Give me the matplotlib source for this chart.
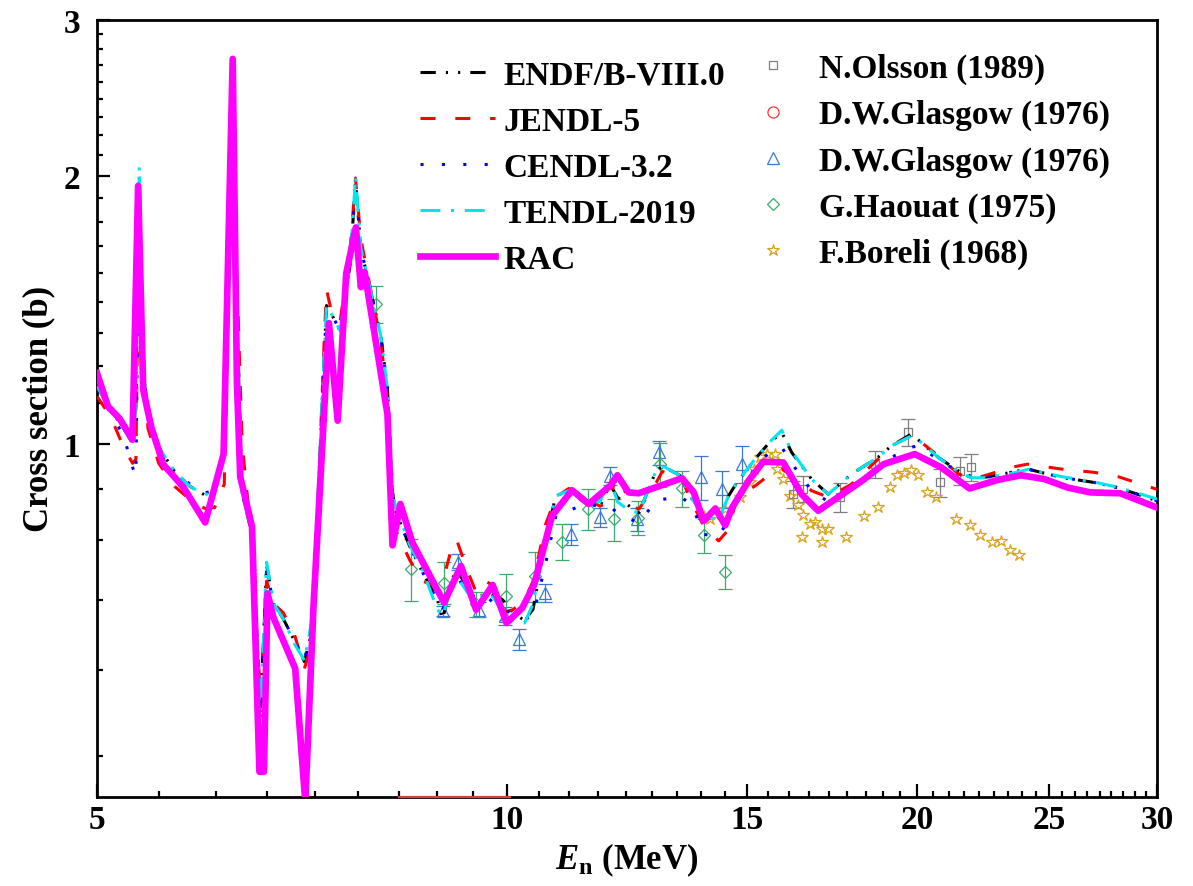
import matplotlib
matplotlib.use("Agg")
import matplotlib.pyplot as plt
from matplotlib.lines import Line2D
from matplotlib.ticker import FixedLocator, NullFormatter

plt.rcParams["font.family"] = ["Liberation Serif", "DejaVu Serif"]
plt.rcParams["font.weight"] = "bold"
plt.rcParams["mathtext.fontset"] = "custom"
plt.rcParams["mathtext.rm"] = "Liberation Serif:bold"
plt.rcParams["mathtext.it"] = "Liberation Serif:italic:bold"
plt.rcParams["mathtext.bf"] = "Liberation Serif:bold"

# ---------------------------------------------------------------
# evaluated libraries (shared energy grid, MeV) / cross sections (b)
# ---------------------------------------------------------------
e_eval = [5.00, 5.12, 5.23, 5.31, 5.34, 5.37, 5.40, 5.45, 5.55, 5.70,
          5.85, 6.00, 6.10, 6.20, 6.28, 6.33, 6.39, 6.50, 6.59, 6.66,
          6.74, 6.85, 6.98, 7.10, 7.20, 7.34, 7.37, 7.43, 7.54, 7.67,
          7.74, 7.81, 8.08, 8.17, 8.24, 8.28, 8.48, 8.67, 8.89, 8.97,
          9.10, 9.18, 9.35, 9.49, 9.65, 9.78, 9.92, 10.10, 10.30, 10.45,
          10.67, 10.86, 11.10, 11.40, 11.70, 11.90, 12.05, 12.30, 12.50, 12.85,
          13.00, 13.40, 13.67, 13.94, 14.30, 14.54, 14.75, 15.21, 15.55, 15.91,
          16.18, 16.73, 17.21, 17.90, 18.72, 19.15, 19.81, 20.03, 20.72, 21.43,
          21.92, 22.42, 23.44, 24.11, 25.51, 26.98, 28.07, 30.00]

xs_endf = [1.16, 1.09, 1.04, 1.00, 1.10, 2.00, 1.25, 1.07, 0.99, 0.93,
           0.895, 0.875, 0.885, 0.99, 2.45, 1.45, 0.878, 0.79, 0.50, 0.73,
           0.66, 0.635, 0.60, 0.568, 0.62, 1.25, 1.43, 1.40, 1.34, 1.59,
           1.97, 1.66, 1.32, 1.15, 0.88, 0.84, 0.767, 0.716, 0.667, 0.634,
           0.70, 0.72, 0.69, 0.667, 0.68, 0.674, 0.667, 0.645, 0.632, 0.651,
           0.78, 0.873, 0.885, 0.858, 0.85, 0.90, 0.87, 0.85, 0.836, 0.928,
           0.944, 0.92, 0.866, 0.829, 0.82, 0.873, 0.904, 0.961, 0.999, 1.029,
           0.977, 0.912, 0.877, 0.924, 0.965, 0.994, 1.025, 1.01, 0.965, 0.932,
           0.918, 0.916, 0.928, 0.936, 0.916, 0.904, 0.892, 0.862]

xs_jendl = [1.13, 1.07, 0.99, 0.95, 0.96, 1.95, 1.30, 1.04, 0.95, 0.895,
            0.865, 0.845, 0.847, 0.90, 2.40, 1.60, 1.00, 0.77, 0.52, 0.70,
            0.66, 0.645, 0.61, 0.558, 0.60, 1.30, 1.49, 1.41, 1.37, 1.65,
            1.99, 1.70, 1.30, 1.12, 0.86, 0.80, 0.74, 0.70, 0.69, 0.70,
            0.76, 0.78, 0.72, 0.68, 0.70, 0.69, 0.645, 0.65, 0.667, 0.70,
            0.81, 0.87, 0.89, 0.87, 0.85, 0.86, 0.94, 0.851, 0.844, 0.90,
            0.93, 0.92, 0.858, 0.808, 0.777, 0.80, 0.87, 0.896, 0.92, 0.936,
            0.92, 0.885, 0.87, 0.90, 0.96, 0.994, 1.02, 1.01, 0.969, 0.925,
            0.912, 0.92, 0.94, 0.948, 0.936, 0.928, 0.918, 0.888]

xs_cendl = [1.15, 1.08, 1.02, 0.94, 0.92, 1.98, 1.25, 1.07, 0.99, 0.93,
            0.90, 0.88, 0.885, 0.98, 2.40, 1.45, 0.878, 0.79, 0.49, 0.72,
            0.66, 0.635, 0.60, 0.57, 0.63, 1.25, 1.42, 1.40, 1.34, 1.59,
            1.96, 1.66, 1.32, 1.15, 0.88, 0.84, 0.767, 0.716, 0.665, 0.65,
            0.69, 0.71, 0.68, 0.665, 0.675, 0.66, 0.655, 0.64, 0.634, 0.64,
            0.731, 0.829, 0.84, 0.855, 0.85, 0.85, 0.835, 0.822, 0.815, 0.86,
            0.865, 0.872, 0.852, 0.79, 0.787, 0.82, 0.87, 0.94, 0.975, 0.99,
            0.95, 0.885, 0.86, 0.895, 0.935, 0.965, 0.99, 0.995, 0.96, 0.93,
            0.915, 0.915, 0.928, 0.936, 0.916, 0.904, 0.892, 0.862]

xs_tendl = [1.16, 1.09, 1.04, 1.00, 1.10, 2.05, 1.25, 1.08, 0.99, 0.93,
            0.895, 0.875, 0.885, 0.99, 2.45, 1.45, 0.878, 0.79, 0.50, 0.735,
            0.66, 0.635, 0.595, 0.57, 0.64, 1.25, 1.43, 1.40, 1.34, 1.59,
            2.00, 1.66, 1.32, 1.15, 0.88, 0.85, 0.77, 0.72, 0.65, 0.64,
            0.69, 0.71, 0.68, 0.665, 0.68, 0.67, 0.645, 0.632, 0.628, 0.66,
            0.78, 0.873, 0.885, 0.858, 0.86, 0.915, 0.86, 0.84, 0.836, 0.928,
            0.944, 0.92, 0.866, 0.829, 0.82, 0.873, 0.904, 0.961, 1.00, 1.035,
            0.98, 0.912, 0.877, 0.924, 0.965, 0.994, 1.02, 1.01, 0.965, 0.93,
            0.915, 0.915, 0.925, 0.935, 0.918, 0.905, 0.893, 0.866]

# RAC curve
e_rac = [5.00, 5.094, 5.196, 5.309, 5.36, 5.406, 5.48, 5.593, 5.786, 6.003,
         6.193, 6.289, 6.334, 6.37, 6.498, 6.58, 6.63, 6.67, 6.74, 6.99,
         7.11, 7.21, 7.40, 7.51, 7.62, 7.745, 7.81, 7.86, 8.17, 8.24,
         8.35, 8.52, 8.99, 9.25, 9.49, 9.76, 9.99, 10.26, 10.47, 10.79,
         11.16, 11.48, 11.90, 12.05, 12.28, 12.49, 13.44, 13.71, 13.94, 14.22,
         14.46, 14.63, 15.04, 15.42, 15.95, 16.45, 16.92, 17.71, 18.26, 18.90,
         19.92, 20.83, 21.85, 22.92, 23.84, 24.80, 25.80, 26.80, 28.20, 30.00]
xs_rac = [1.20, 1.101, 1.066, 1.01, 1.95, 1.15, 1.044, 0.947, 0.893, 0.815,
          0.973, 2.71, 1.175, 0.917, 0.806, 0.427, 0.427, 0.678, 0.636, 0.558,
          0.395, 0.657, 1.366, 1.061, 1.555, 1.751, 1.50, 1.56, 1.078, 0.768,
          0.855, 0.774, 0.662, 0.728, 0.650, 0.693, 0.628, 0.653, 0.694, 0.829,
          0.886, 0.855, 0.896, 0.921, 0.881, 0.879, 0.914, 0.881, 0.818, 0.845,
          0.809, 0.847, 0.908, 0.954, 0.952, 0.877, 0.840, 0.881, 0.910, 0.948,
          0.973, 0.940, 0.890, 0.910, 0.921, 0.912, 0.892, 0.881, 0.879, 0.847]

# ---------------------------------------------------------------
# experimental data
# ---------------------------------------------------------------
e_olsson = [16.22, 16.50, 17.55, 18.62, 19.69, 20.78, 21.49, 21.89]
xs_olsson = [0.877, 0.889, 0.870, 0.948, 1.030, 0.904, 0.932, 0.940]
err_olsson = [0.030, 0.030, 0.033, 0.034, 0.036, 0.033, 0.034, 0.032]

# circles sit on the lower frame edge (only a red trace is visible there)
e_glasgow_c = [8.33, 8.80, 9.30, 9.70, 10.05]
xs_glasgow_c = [0.4, 0.4, 0.4, 0.4, 0.4]

e_glasgow_t = [8.97, 9.20, 9.54, 9.97, 10.20, 10.67, 11.15, 11.71, 11.91, 12.46,
               12.92, 13.89, 14.38, 14.87]
xs_glasgow_t = [0.648, 0.735, 0.650, 0.639, 0.602, 0.679, 0.790, 0.826, 0.920, 0.822,
                0.977, 0.916, 0.889, 0.948]
err_glasgow_t = [0.008, 0.015, 0.013, 0.015, 0.016, 0.016, 0.021, 0.021, 0.021, 0.025,
                 0.030, 0.052, 0.042, 0.046]

e_haouat = [8.01, 8.50, 8.99, 9.49, 9.98, 10.48, 10.97, 11.47, 11.98, 12.48,
            12.96, 13.44, 13.96, 14.46]
xs_haouat = [1.434, 0.722, 0.697, 0.659, 0.673, 0.709, 0.775, 0.844, 0.822, 0.825,
             0.948, 0.890, 0.788, 0.717]
err_haouat = [0.069, 0.058, 0.038, 0.022, 0.040, 0.046, 0.036, 0.044, 0.045, 0.036,
              0.054, 0.042, 0.035, 0.032]

e_boreli = [13.94, 14.10, 14.46, 14.83, 15.08, 15.17, 15.34, 15.51, 15.73, 15.77,
            15.95, 16.13, 16.34, 16.45, 16.50, 16.69, 16.83, 17.02, 17.04, 17.21,
            17.72, 18.27, 18.73, 19.10, 19.33, 19.56, 19.79, 20.03, 20.35, 20.66,
            21.37, 21.86, 22.23, 22.69, 23.03, 23.38, 23.74]
xs_boreli = [0.828, 0.822, 0.844, 0.870, 0.906, 0.936, 0.965, 0.973, 0.973, 0.936,
             0.912, 0.873, 0.852, 0.784, 0.830, 0.811, 0.815, 0.801, 0.775, 0.802,
             0.784, 0.828, 0.849, 0.894, 0.921, 0.926, 0.934, 0.921, 0.881, 0.871,
             0.823, 0.809, 0.788, 0.774, 0.777, 0.758, 0.749]

x_major = [5, 10, 15, 20, 25, 30]
y_major = [1, 2, 3]

C_GRAY = "#7f7f7f"
C_RED = "#ff3333"
C_BLUE = "#3a78d8"
C_GREEN = "#3caa6e"
C_GOLD = "#d9a31a"

# ---------------------------------------------------------------
fig = plt.figure(figsize=(11.93, 8.87), dpi=100)
ax = fig.add_axes([97 / 1193, 1 - 798 / 887, 1060 / 1193, (798 - 20.7) / 887])

l_endf, = ax.plot(e_eval, xs_endf, color="black", lw=2.2,
                  ls=(0, (5, 3.3, 0.7, 3.3, 0.7, 3.3)), zorder=4)
l_jendl, = ax.plot(e_eval, xs_jendl, color="#ff0000", lw=2.2,
                   ls=(0, (4.9, 6.5)), zorder=4)
l_cendl, = ax.plot(e_eval, xs_cendl, color="#0000ff", lw=2.2,
                   ls=(0, (1, 6)), zorder=4)
l_tendl, = ax.plot(e_eval, xs_tendl, color="#00e5ee", lw=2.2,
                   ls=(0, (6.5, 3.5, 1, 3.5)), zorder=4)

eb = dict(ls="none", mfc="none", mew=0.9, elinewidth=0.9, capsize=4.7, capthick=0.9, zorder=3)
ax.errorbar(e_olsson, xs_olsson, yerr=err_olsson, marker="s", ms=5.8,
            mec=C_GRAY, ecolor=C_GRAY, **eb)
ax.errorbar(e_glasgow_t, xs_glasgow_t, yerr=err_glasgow_t, marker="^", ms=8.6,
            mec=C_BLUE, ecolor=C_BLUE, **eb)
ax.errorbar(e_haouat, xs_haouat, yerr=err_haouat, marker="D", ms=6.1,
            mec=C_GREEN, ecolor=C_GREEN, **eb)
ax.plot(e_boreli, xs_boreli, ls="none", marker="*", ms=9, mfc="none",
        mec=C_GOLD, mew=0.9, zorder=3)
ax.plot(e_glasgow_c, xs_glasgow_c, color="#d84040", lw=1.6, zorder=5,
        clip_on=False)

l_rac, = ax.plot(e_rac, xs_rac, color="#ff00ff", lw=4.8, zorder=6,
                 solid_joinstyle="round")

# ---------------------------------------------------------------
# axes
# ---------------------------------------------------------------
ax.set_xscale("log")
ax.set_yscale("log")
ax.set_xlim(5, 30)
ax.set_ylim(0.4, 3)

x_minor = [a + k * 5 / 9 for a in (5, 10, 15, 20, 25) for k in range(1, 9)]
y_minor = [1 - k / 9 for k in range(1, 6)] + [1 + k / 9 for k in range(1, 9)] + \
          [2 + k / 9 for k in range(1, 9)]
ax.xaxis.set_major_locator(FixedLocator(x_major))
ax.xaxis.set_minor_locator(FixedLocator(x_minor))
ax.yaxis.set_major_locator(FixedLocator(y_major))
ax.yaxis.set_minor_locator(FixedLocator(y_minor))
ax.set_xticklabels([str(v) for v in x_major])
ax.set_yticklabels([str(v) for v in y_major])
ax.xaxis.set_minor_formatter(NullFormatter())
ax.yaxis.set_minor_formatter(NullFormatter())

ax.tick_params(which="both", direction="in", top=False, right=False,
               width=1.6, labelsize=24)
ax.tick_params(which="major", length=9.5)
ax.tick_params(which="minor", length=4.5)
ax.tick_params(axis="x", pad=5)
ax.tick_params(axis="y", pad=12)
for sp in ax.spines.values():
    sp.set_linewidth(2.0)

ax.set_xlabel(r"$E_{\mathrm{n}}$ (MeV)", fontsize=25, fontweight="bold", labelpad=4)
ax.set_ylabel("Cross section (b)", fontsize=25, fontweight="bold", labelpad=6)

# ---------------------------------------------------------------
# legends
# ---------------------------------------------------------------
leg1 = ax.legend([l_endf, l_jendl, l_cendl, l_tendl, l_rac],
                 ["ENDF/B-VIII.0", "JENDL-5", "CENDL-3.2", "TENDL-2019", "RAC"],
                 loc="upper left", bbox_to_anchor=(420 / 1193, 1 - 61 / 887),
                 bbox_transform=fig.transFigure, frameon=False, fontsize=24,
                 handlelength=2.25, handletextpad=0.25, labelspacing=0.45,
                 borderpad=0, borderaxespad=0)
ax.add_artist(leg1)

mk = dict(ls="none", mfc="none", mew=0.9)
h_exp = [Line2D([], [], marker="s", ms=5.8, mec=C_GRAY, **mk),
         Line2D([], [], marker="o", ms=8, mec=C_RED, **mk),
         Line2D([], [], marker="^", ms=8.6, mec=C_BLUE, **mk),
         Line2D([], [], marker="D", ms=6.1, mec=C_GREEN, **mk),
         Line2D([], [], marker="*", ms=9, mec=C_GOLD, **mk)]
ax.legend(h_exp, ["N.Olsson (1989)", "D.W.Glasgow (1976)", "D.W.Glasgow (1976)",
                  "G.Haouat (1975)", "F.Boreli (1968)"],
          loc="upper left", bbox_to_anchor=(756 / 1193, 1 - 54 / 887),
          bbox_transform=fig.transFigure, frameon=False, fontsize=24,
          handlelength=1.0, handletextpad=0.88, labelspacing=0.45,
          borderpad=0, borderaxespad=0)

fig.savefig("out.png", dpi=100)
